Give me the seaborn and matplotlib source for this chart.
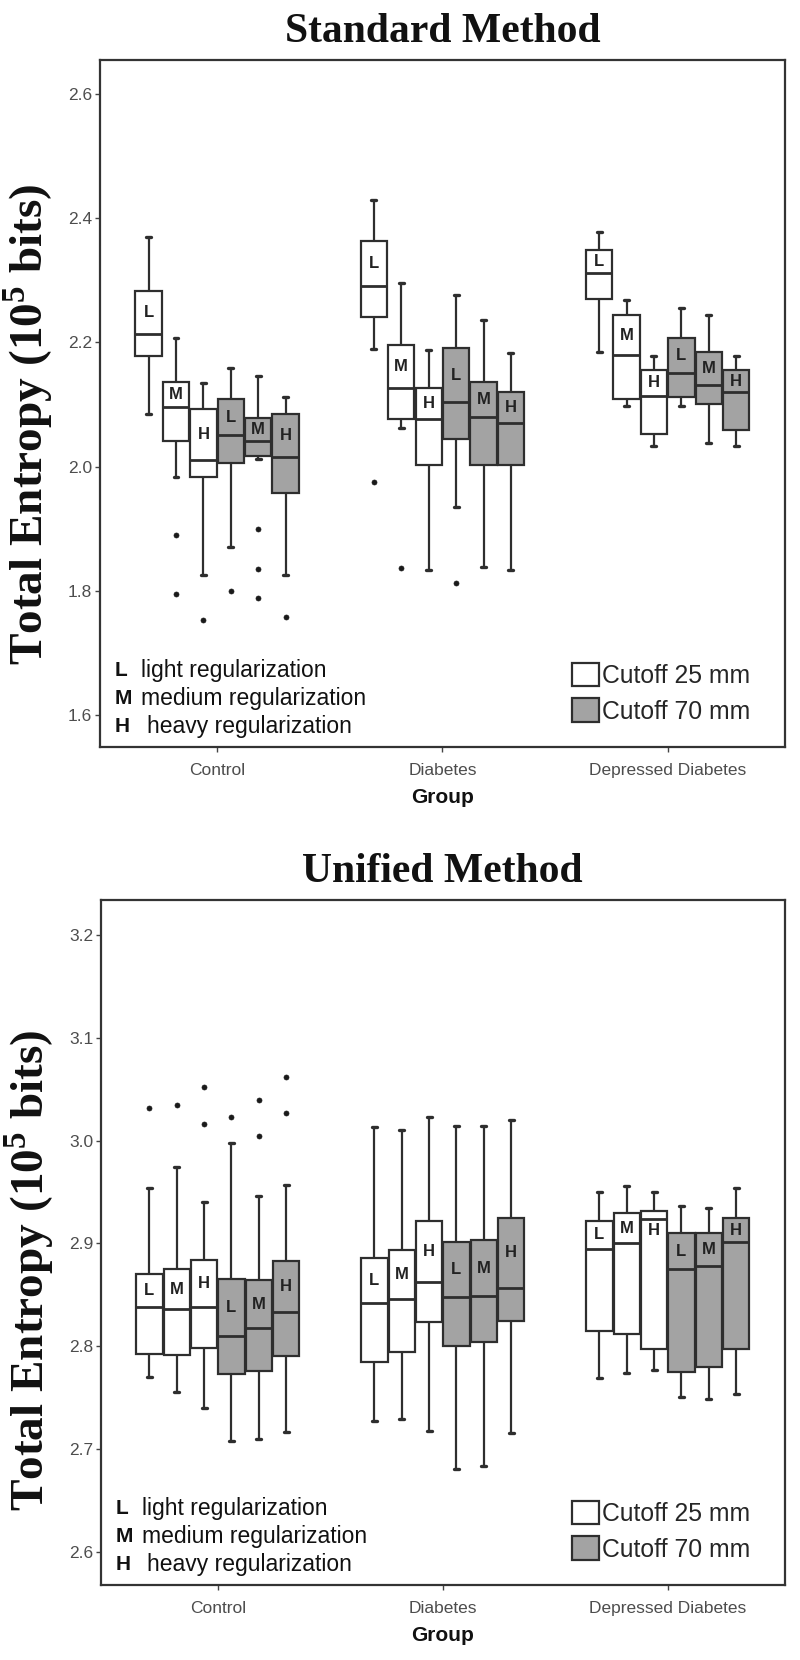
import numpy as np
import pandas as pd
import matplotlib
matplotlib.use("Agg")
import matplotlib.pyplot as plt
import seaborn as sns
from matplotlib.patches import Patch

# ---------------- data ----------------
groups = ["Control", "Diabetes", "Depressed Diabetes"]
box_keys = ["L25", "M25", "H25", "L70", "M70", "H70"]
box_letters = ["L", "M", "H", "L", "M", "H"]
cutoff_labels = ["Cutoff 25 mm", "Cutoff 70 mm"]
reg_letters = ["L", "M", "H"]
reg_labels = ["light regularization", "medium regularization", "heavy regularization"]

# Standard method (rows = groups, columns = boxes in box_keys order)
std_lo = [[2.084, 1.983, 1.826, 1.871, 2.012, 1.825],
          [2.189, 2.062, 1.834, 1.935, 1.838, 1.834],
          [2.184, 2.097, 2.033, 2.097, 2.038, 2.033]]
std_q1 = [[2.178, 2.041, 1.984, 2.006, 2.017, 1.957],
          [2.241, 2.077, 2.003, 2.045, 2.003, 2.003],
          [2.269, 2.108, 2.053, 2.112, 2.101, 2.059]]
std_med = [[2.214, 2.096, 2.010, 2.050, 2.041, 2.015],
           [2.290, 2.127, 2.077, 2.104, 2.079, 2.070],
           [2.312, 2.179, 2.113, 2.151, 2.131, 2.120]]
std_q3 = [[2.283, 2.136, 2.092, 2.108, 2.078, 2.085],
          [2.363, 2.195, 2.127, 2.190, 2.136, 2.120],
          [2.348, 2.244, 2.156, 2.207, 2.184, 2.155]]
std_hi = [[2.369, 2.206, 2.134, 2.159, 2.145, 2.112],
          [2.428, 2.295, 2.187, 2.276, 2.236, 2.183],
          [2.377, 2.268, 2.178, 2.255, 2.243, 2.178]]
std_out = [[[], [1.890, 1.795], [1.753], [1.800], [1.900, 1.835, 1.788], [1.758]],
           [[1.975], [1.837], [], [1.812], [], []],
           [[], [], [], [], [], []]]

# Unified method
uni_lo = [[2.770, 2.756, 2.740, 2.708, 2.710, 2.717],
          [2.727, 2.729, 2.718, 2.681, 2.684, 2.716],
          [2.769, 2.774, 2.777, 2.751, 2.749, 2.754]]
uni_q1 = [[2.793, 2.792, 2.798, 2.773, 2.776, 2.791],
          [2.785, 2.794, 2.824, 2.800, 2.804, 2.825],
          [2.815, 2.812, 2.797, 2.775, 2.780, 2.797]]
uni_med = [[2.838, 2.836, 2.838, 2.810, 2.818, 2.833],
           [2.842, 2.846, 2.863, 2.848, 2.849, 2.857],
           [2.895, 2.900, 2.924, 2.875, 2.878, 2.901]]
uni_q3 = [[2.870, 2.875, 2.884, 2.865, 2.864, 2.883],
          [2.886, 2.894, 2.922, 2.901, 2.903, 2.925],
          [2.922, 2.930, 2.932, 2.910, 2.910, 2.925]]
uni_hi = [[2.954, 2.974, 2.940, 2.998, 2.946, 2.957],
          [3.013, 3.010, 3.023, 3.014, 3.014, 3.020],
          [2.950, 2.956, 2.950, 2.936, 2.934, 2.954]]
uni_out = [[[3.032], [3.035], [3.052, 3.016], [3.023], [3.039, 3.004], [3.062, 3.027]],
           [[], [], [], [], [], []],
           [[], [], [], [], [], []]]

std_yticks = [1.6, 1.8, 2.0, 2.2, 2.4, 2.6]
uni_yticks = [2.6, 2.7, 2.8, 2.9, 3.0, 3.1, 3.2]

# ---------------- style ----------------
sns.set_theme(style="white")
plt.rcParams["font.family"] = ["Liberation Sans", "DejaVu Sans"]
plt.rcParams["mathtext.fontset"] = "custom"
plt.rcParams["mathtext.rm"] = "Liberation Serif"
plt.rcParams["mathtext.bf"] = "Liberation Serif:bold"

WHITE = "#ffffff"
GRAY = "#a3a3a3"
EDGE = "#2e2e2e"
box_colors = [WHITE, WHITE, WHITE, GRAY, GRAY, GRAY]
BOX_WIDTH = 0.73


def expand(lo, q1, med, q3, hi, outs, m=4):
    """Sample made only of the read summary values, reproducing the box stats."""
    low = sorted(o for o in outs if o < q1)
    high = sorted(o for o in outs if o > q3)
    below = low + [lo]
    below += [q1] * (m - len(below))
    above = [hi] + high
    above += [q3] * (m - len(above))
    return below + [q1] * m + [med] + [q3] * m + above


def draw_panel(ax, lo, q1, med, q3, hi, outs, title, yticks, ylim, ylab_y):
    recs = []
    for gi, g in enumerate(groups):
        for bi, b in enumerate(box_keys):
            for v in expand(lo[gi][bi], q1[gi][bi], med[gi][bi], q3[gi][bi],
                            hi[gi][bi], outs[gi][bi]):
                recs.append((g, b, v))
    df = pd.DataFrame(recs, columns=["Group", "box", "value"])

    sns.boxplot(data=df, x="Group", y="value", hue="box", order=groups,
                hue_order=box_keys, palette=box_colors, saturation=1,
                width=BOX_WIDTH, gap=0.04, linecolor=EDGE, linewidth=1.6,
                fliersize=3.6,
                flierprops={"marker": "o", "markerfacecolor": "#1a1a1a",
                            "markeredgecolor": "#1a1a1a", "markeredgewidth": 0.5},
                medianprops={"linewidth": 2.0},
                capprops={"gid": "cap", "linewidth": 2.4},
                legend=False, ax=ax)

    # short caps like the reference
    for ln in ax.lines:
        if ln.get_gid() == "cap":
            x = np.asarray(ln.get_xdata(), dtype=float)
            c = x.mean()
            half = (BOX_WIDTH / len(box_keys)) * 0.09
            ln.set_xdata([c - half, c + half])

    ax.set_xlim(-0.52, 2.52)
    ax.set_ylim(*ylim)
    ax.set_yticks(yticks)
    ax.set_yticklabels([f"{t:.1f}" for t in yticks])

    # letters inside the boxes
    n = len(box_keys)
    px_per_unit = ax.bbox.height / (ylim[1] - ylim[0])
    for gi in range(len(groups)):
        for bi in range(n):
            xc = gi + (bi - (n - 1) / 2) * BOX_WIDTH / n
            upper = q3[gi][bi] - med[gi][bi]
            if upper * px_per_unit >= 16:
                yc = (med[gi][bi] + q3[gi][bi]) / 2
            else:
                yc = med[gi][bi] - 12 / px_per_unit
            ax.text(xc, yc, box_letters[bi], ha="center", va="center",
                    fontsize=12, fontweight="bold", color="#222222",
                    family=["Liberation Sans", "DejaVu Sans"])

    ax.set_title(title, fontsize=30, fontweight="bold",
                 family=["Liberation Serif", "DejaVu Serif"], pad=13,
                 color="#111111")
    ax.set_xlabel("Group", fontsize=15, fontweight="bold", color="#111111",
                  labelpad=7)
    ax.set_ylabel(r"Total Entropy (10$^{\mathbf{5}}$ bits)", fontsize=34,
                  fontweight="bold", family=["Liberation Serif", "DejaVu Serif"],
                  color="#111111")
    ax.yaxis.set_label_coords(-0.066, ylab_y)

    for s in ax.spines.values():
        s.set_visible(True)
        s.set_color("#333333")
        s.set_linewidth(1.6)
    ax.tick_params(axis="both", which="major", direction="out", length=3.5,
                   width=1, color="#444444", labelcolor="#4d4d4d",
                   labelsize=12.5, left=True, bottom=True, pad=2)
    ax.tick_params(axis="x", pad=8)

    # regularization legend (text)
    rows_y = [0.112, 0.071, 0.030]
    text_x = [0.060, 0.060, 0.068]
    for i in range(3):
        ax.text(0.022, rows_y[i], reg_letters[i], transform=ax.transAxes,
                fontsize=15, fontweight="bold", va="center", ha="left",
                color="#111111")
        ax.text(text_x[i], rows_y[i], reg_labels[i], transform=ax.transAxes,
                fontsize=16.5, va="center", ha="left", color="#111111")

    # cutoff legend
    handles = [Patch(facecolor=WHITE, edgecolor=EDGE, linewidth=1.6),
               Patch(facecolor=GRAY, edgecolor=EDGE, linewidth=1.6)]
    ax.legend(handles, cutoff_labels, loc="lower left",
              bbox_to_anchor=(0.689, 0.034), frameon=False, borderpad=0,
              borderaxespad=0, handlelength=1.1, handleheight=1.1,
              handletextpad=0.12, labelspacing=0.42,
              prop={"family": "Liberation Sans", "size": 17.8})


fig = plt.figure(figsize=(8.0, 16.6), dpi=100)
ax1 = fig.add_axes([0.125, 0.55, 0.856, 0.4139])
ax2 = fig.add_axes([0.126, 0.0452, 0.855, 0.4127])

draw_panel(ax1, std_lo, std_q1, std_med, std_q3, std_hi, std_out,
           "Standard Method", std_yticks, (1.549, 2.654), 0.47)
draw_panel(ax2, uni_lo, uni_q1, uni_med, uni_q3, uni_hi, uni_out,
           "Unified Method", uni_yticks, (2.568, 3.234), 0.46)

fig.savefig("out.png", dpi=100, facecolor="white")
